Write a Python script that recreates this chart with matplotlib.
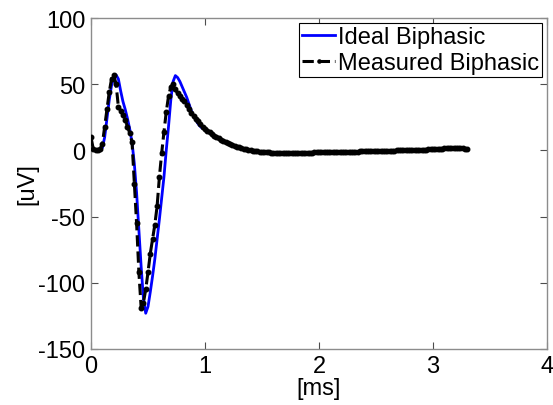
import numpy as np
import matplotlib
matplotlib.use("Agg")
import matplotlib.pyplot as plt

plt.rcParams['font.family'] = ['Liberation Sans', 'DejaVu Sans']
plt.rcParams['axes.unicode_minus'] = False

dt = 0.02  # ms sampling interval

measured_early = [10, 1, 0, 0, 1, 5, 18, 31, 44, 54,
                  57, 50, 33, 30, 27, 23, 18, 13, 6, -25,
                  -55, -92, -119, -115, -105, -92, -78, -67, -56, -42,
                  -20, -2, 14, 29, 41, 48, 50, 46, 43, 41,
                  39, 37, 34, 31, 28, 26, 24, 22, 20, 18]

ideal_early = [0, 0, 0, 0, 0, 2, 10, 24, 38, 49,
               55, 57, 54, 45, 37, 31, 24, 16, 6, -10,
               -32, -60, -88, -112, -123, -118, -107, -95, -82, -67,
               -52, -36, -20, 0, 18, 38, 52, 56.5, 55, 52,
               48, 44, 40, 35, 30, 26, 23, 20, 18, 16.5]

tail = [16.5, 15, 14, 12.5, 11, 10, 9, 8, 7, 6, 5.3, 4.6, 4, 3.4, 2.8, 2.3, 1.8, 1.3, 0.9, 0.5,
        0.2, -0.1, -0.4, -0.7, -0.9, -1.1,
        -1.3, -1.4, -1.5, -1.6, -1.7, -1.7, -1.8, -1.8, -1.8, -1.8, -1.8, -1.8, -1.8, -1.8, -1.8,
        -1.7, -1.7, -1.7, -1.7, -1.6, -1.6, -1.6, -1.5, -1.5, -1.5, -1.4, -1.4, -1.4, -1.3, -1.3,
        -1.3, -1.2, -1.2, -1.2, -1.1, -1.1, -1.1, -1.0, -1.0, -1.0,
        -0.9, -0.9, -0.8, -0.8, -0.7, -0.7, -0.6, -0.6, -0.5, -0.5, -0.4, -0.4, -0.3, -0.3,
        -0.2, -0.2, -0.1, -0.1, 0.0, 0.0, 0.1, 0.1, 0.2, 0.2, 0.3,
        0.3, 0.4, 0.4, 0.5, 0.5, 0.6, 0.6, 0.7, 0.7, 0.8, 0.8, 0.9, 1.3, 1.4, 1.5, 1.5, 1.5,
        1.5, 1.6, 1.6, 1.6, 1.6, 1.5, 1.4, 1.2]

measured = measured_early + tail
ideal = ideal_early + tail
t_meas = np.arange(len(measured)) * dt
t_ideal = np.arange(len(ideal)) * dt

xticks = [0, 1, 2, 3, 4]
yticks = [-150, -100, -50, 0, 50, 100]

fig = plt.figure(figsize=(5.53, 4.06), dpi=100)
ax = fig.add_axes([91/553, 56/406, 456/553, 331/406])

ax.plot(t_ideal, ideal, color=(0, 0, 1), lw=2, label='Ideal Biphasic', zorder=2)
ax.plot(t_meas, measured, color='black', lw=2.2, ls='--', marker='.', ms=6.5,
        label='Measured Biphasic', zorder=3)

ax.set_xlim(0, 4)
ax.set_ylim(-150, 100)
ax.set_xticks(xticks)
ax.set_yticks(yticks)
fs = 17
ax.tick_params(direction='in', top=True, right=True, length=5, width=0.8,
               color='0.3', labelsize=fs, pad=4)
for s in ax.spines.values():
    s.set_color('0.55')
    s.set_linewidth(1.0)
ax.set_xlabel('[ms]', fontsize=fs, labelpad=0)
ax.set_ylabel('[uV]', fontsize=fs, labelpad=0)

leg = ax.legend(loc='upper right', fontsize=fs, frameon=True, fancybox=False,
                edgecolor='black', framealpha=1, borderpad=0.15, labelspacing=0.15,
                handlelength=1.4, handletextpad=0.1, borderaxespad=0.2, numpoints=1,
                markerscale=0.7)
leg.get_frame().set_linewidth(0.8)

fig.savefig('out.png', dpi=100)
